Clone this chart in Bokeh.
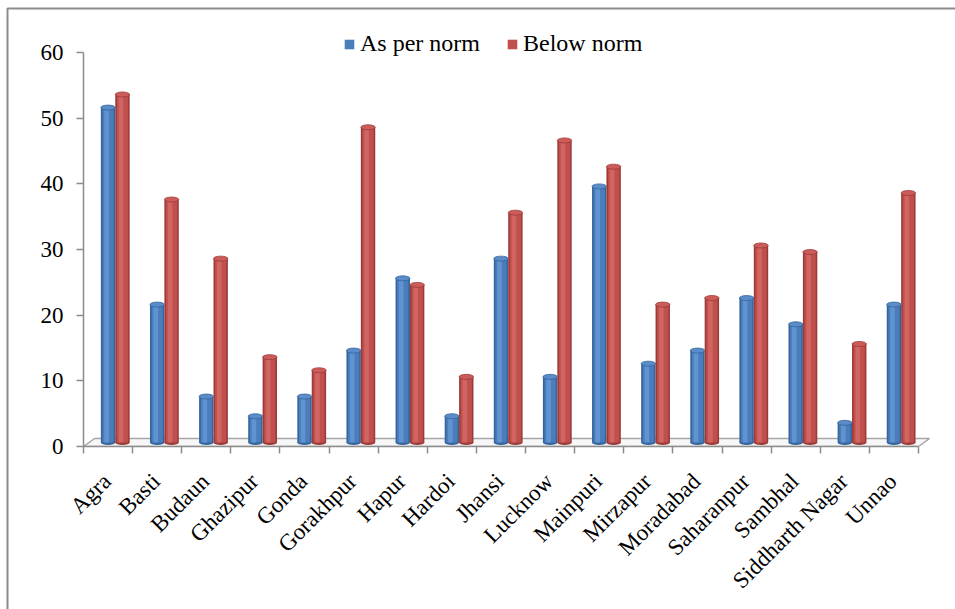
import math
from bokeh.plotting import figure
from bokeh.models import LinearAxis, FixedTicker, Range1d, Legend, LegendItem
from bokeh.embed import file_html
from bokeh.resources import INLINE

# ---------------- data ----------------
districts = ["Agra", "Basti", "Budaun", "Ghazipur", "Gonda", "Gorakhpur", "Hapur",
             "Hardoi", "Jhansi", "Lucknow", "Mainpuri", "Mirzapur", "Moradabad",
             "Saharanpur", "Sambhal", "Siddharth Nagar", "Unnao"]
as_per_norm = [51, 21, 7, 4, 7, 14, 25, 4, 28, 10, 39, 12, 14, 22, 18, 3, 21]
below_norm = [53, 37, 28, 13, 11, 48, 24, 10, 35, 46, 42, 21, 22, 30, 29, 15, 38]
y_ticks = [0, 10, 20, 30, 40, 50, 60]
series_names = ["As per norm", "Below norm"]

# ---------------- layout constants (pixels) ----------------
W, H = 955, 609
FL, FR, FT, FB = 83, 945, 20, 446          # frame edges
AXIS_RIGHT = 918                           # right end of category axis
Y_TOP_PX = 52                              # pixel of y = 60
n = len(districts)
cat_px = (AXIS_RIGHT - FL) / n
px_unit = (FB - Y_TOP_PX) / y_ticks[-1]
x_end = (FR - FL) / cat_px
y_end = (FB - FT) / px_unit

BW = 14.4 / cat_px          # bar width in data units
BASE = 4.0 / px_unit        # bars stand at mid depth of the floor
DX = 11.0 / cat_px          # floor depth offsets
DY = 8.0 / px_unit
LSHIFT = -1.0 / cat_px      # label anchor shift

GRAY = "#8c8c8c"
FLOOR = "#a6a6a6"
FONT = "Liberation Serif"

p = figure(width=W, height=H, output_backend="svg", toolbar_location=None,
           x_range=Range1d(0, x_end), y_range=Range1d(0, y_end),
           x_axis_location=None, y_axis_location=None,
           min_border_left=FL, min_border_right=W - FR,
           min_border_top=FT, min_border_bottom=H - FB)
p.outline_line_color = None
p.background_fill_color = "white"
p.border_fill_color = "white"
for g in p.grid:
    g.visible = False

# ---------------- floor ----------------
p.patch(x=[0, n, n + DX, DX], y=[0, 0, DY, DY], fill_color="#f7f7f7",
        line_color=FLOOR, line_width=1.5)

# ---------------- cylinders ----------------
styles = [
    # dark edge, main, highlight, top
    ("#36649c", "#4a7dba", "#5f93d2", "#5a8cc9"),
    ("#9c3b38", "#c0504d", "#d06561", "#cc5c59"),
]
legend_renderers = []
for k, vals in enumerate([as_per_norm, below_norm]):
    dark, main, light, topc = styles[k]
    xs = [i + 0.5 + k * BW for i in range(n)]
    tops = [v + BASE for v in vals]
    p.ellipse(x=xs, y=[BASE] * n, width=BW, height=5, height_units="screen",
              fill_color=dark, line_color=None)
    p.vbar(x=xs, bottom=BASE, top=tops, width=BW, fill_color=dark, line_color=None)
    r = p.vbar(x=xs, bottom=BASE, top=tops, width=BW * 0.78, fill_color=main,
               line_color=None)
    legend_renderers.append(r)
    p.vbar(x=[x - BW * 0.1 for x in xs], bottom=BASE, top=tops, width=BW * 0.32,
           fill_color=light, line_color=None)
    p.ellipse(x=xs, y=tops, width=BW, height=5, height_units="screen",
              fill_color=topc, line_color=dark, line_width=0.8)

# ---------------- axes ----------------
yax = LinearAxis(ticker=FixedTicker(ticks=y_ticks), bounds=(0, y_ticks[-1]),
                 axis_line_color=GRAY, axis_line_width=1.5,
                 major_tick_line_color=GRAY, major_tick_line_width=1.5,
                 major_tick_out=7, major_tick_in=0,
                 minor_tick_out=0, minor_tick_in=0,
                 major_label_text_font=FONT, major_label_text_font_size="23px",
                 major_label_text_color="black", major_label_standoff=13)
p.add_layout(yax, "left")

label_ticks = [i + 0.5 + LSHIFT for i in range(n)]
xax = LinearAxis(ticker=FixedTicker(ticks=label_ticks, minor_ticks=list(range(n + 1))),
                 bounds=(0, n),
                 axis_line_color=GRAY, axis_line_width=1.5,
                 major_tick_out=0, major_tick_in=0,
                 minor_tick_line_color=GRAY, minor_tick_line_width=1.5,
                 minor_tick_out=7, minor_tick_in=0,
                 major_label_orientation=math.pi / 4,
                 major_label_overrides={t: d for t, d in zip(label_ticks, districts)},
                 major_label_text_font=FONT, major_label_text_font_size="23px",
                 major_label_text_color="black", major_label_standoff=24)
p.add_layout(xax, "below")

# ---------------- legend ----------------
legend = Legend(items=[LegendItem(label=series_names[0], renderers=[legend_renderers[0]]),
                       LegendItem(label=series_names[1], renderers=[legend_renderers[1]])],
                orientation="horizontal", location=(343 - FL, FB - 57),
                glyph_width=12, glyph_height=12, label_standoff=5, spacing=26,
                padding=0, margin=0, border_line_color=None,
                background_fill_alpha=0, label_height=24,
                label_text_font=FONT, label_text_font_size="24px",
                label_text_color="black")
p.add_layout(legend)

# ---------------- outer chart border ----------------
p.quad(left=-(FL - 7) / cat_px, right=x_end + 10, top=(FB - 8) / px_unit, bottom=-60,
       fill_color=None, line_color=GRAY, line_width=2, level="overlay")

open("out.html", "w").write(file_html(p, INLINE))
